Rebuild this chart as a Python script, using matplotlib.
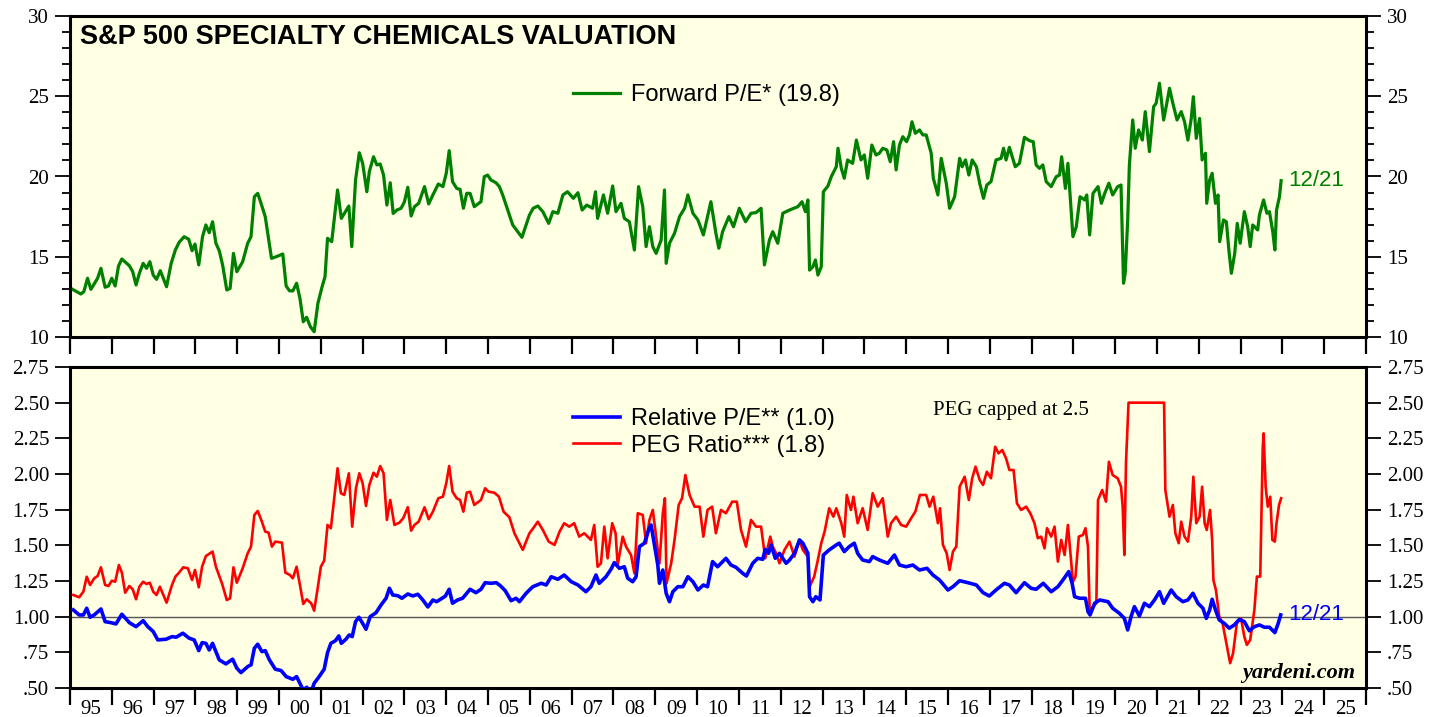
import numpy as np
import matplotlib
matplotlib.use("Agg")
import matplotlib.pyplot as plt
from matplotlib.ticker import MultipleLocator, FixedLocator, FuncFormatter

# ---- data (decimal year, value) ----
fwd_pe_dates = [
    1995.06, 1995.26, 1995.33, 1995.42, 1995.50, 1995.66, 1995.74, 1995.84, 1995.92, 1996.00,
    1996.08, 1996.16, 1996.24, 1996.42, 1996.50, 1996.58, 1996.66, 1996.75, 1996.83, 1996.91,
    1996.99, 1997.07, 1997.16, 1997.31, 1997.42, 1997.52, 1997.61, 1997.73, 1997.84, 1997.92,
    1997.99, 1998.08, 1998.17, 1998.25, 1998.33, 1998.41, 1998.49, 1998.57, 1998.65, 1998.75,
    1998.83, 1998.91, 1998.99, 1999.13, 1999.25, 1999.33, 1999.41, 1999.49, 1999.57, 1999.67,
    1999.82, 1999.93, 2000.09, 2000.17, 2000.25, 2000.33, 2000.42, 2000.50, 2000.58, 2000.66,
    2000.75, 2000.84, 2000.93, 2001.03, 2001.10, 2001.16, 2001.26, 2001.40, 2001.49, 2001.67,
    2001.74, 2001.83, 2001.92, 2002.00, 2002.10, 2002.16, 2002.26, 2002.34, 2002.42, 2002.50,
    2002.58, 2002.66, 2002.73, 2002.82, 2002.92, 2003.00, 2003.08, 2003.16, 2003.24, 2003.34,
    2003.48, 2003.58, 2003.68, 2003.81, 2003.92, 2004.00, 2004.07, 2004.15, 2004.25, 2004.33,
    2004.41, 2004.49, 2004.57, 2004.67, 2004.83, 2004.91, 2004.99, 2005.07, 2005.19, 2005.27,
    2005.35, 2005.47, 2005.59, 2005.71, 2005.81, 2005.99, 2006.08, 2006.19, 2006.31, 2006.45,
    2006.55, 2006.67, 2006.79, 2006.90, 2007.04, 2007.15, 2007.25, 2007.36, 2007.50, 2007.57,
    2007.62, 2007.76, 2007.86, 2007.98, 2008.06, 2008.18, 2008.26, 2008.38, 2008.50, 2008.60,
    2008.70, 2008.78, 2008.86, 2008.94, 2009.02, 2009.14, 2009.22, 2009.26, 2009.34, 2009.46,
    2009.58, 2009.70, 2009.78, 2009.90, 2010.02, 2010.15, 2010.25, 2010.33, 2010.45, 2010.52,
    2010.61, 2010.76, 2010.87, 2011.01, 2011.16, 2011.29, 2011.41, 2011.53, 2011.61, 2011.73,
    2011.81, 2011.93, 2012.05, 2012.21, 2012.41, 2012.51, 2012.59, 2012.65, 2012.69, 2012.77,
    2012.83, 2012.89, 2012.97, 2013.02, 2013.13, 2013.21, 2013.33, 2013.37, 2013.45, 2013.52,
    2013.60, 2013.72, 2013.81, 2013.92, 2014.00, 2014.08, 2014.18, 2014.28, 2014.36, 2014.44,
    2014.54, 2014.62, 2014.70, 2014.76, 2014.84, 2014.92, 2015.01, 2015.08, 2015.14, 2015.22,
    2015.32, 2015.40, 2015.48, 2015.60, 2015.65, 2015.76, 2015.84, 2015.96, 2016.04, 2016.16,
    2016.28, 2016.34, 2016.42, 2016.50, 2016.58, 2016.68, 2016.76, 2016.85, 2016.93, 2017.03,
    2017.15, 2017.27, 2017.33, 2017.39, 2017.47, 2017.61, 2017.71, 2017.83, 2017.95, 2018.04,
    2018.11, 2018.19, 2018.27, 2018.35, 2018.47, 2018.59, 2018.67, 2018.72, 2018.81, 2018.87,
    2018.99, 2019.07, 2019.16, 2019.27, 2019.32, 2019.39, 2019.47, 2019.59, 2019.67, 2019.75,
    2019.85, 2019.94, 2020.06, 2020.14, 2020.20, 2020.24, 2020.30, 2020.34, 2020.42, 2020.48,
    2020.56, 2020.65, 2020.72, 2020.82, 2020.92, 2020.98, 2021.06, 2021.16, 2021.22, 2021.30,
    2021.38, 2021.48, 2021.58, 2021.66, 2021.74, 2021.82, 2021.87, 2021.94, 2022.02, 2022.08,
    2022.16, 2022.19, 2022.26, 2022.32, 2022.40, 2022.46, 2022.50, 2022.59, 2022.66, 2022.72,
    2022.78, 2022.86, 2022.92, 2022.99, 2023.09, 2023.17, 2023.23, 2023.29, 2023.41, 2023.45,
    2023.55, 2023.63, 2023.69, 2023.77, 2023.82, 2023.86, 2023.93, 2023.97,
]
fwd_pe = [
    12.97, 12.68, 12.82, 13.66, 12.97, 13.66, 14.28, 13.10, 13.18, 13.66,
    13.18, 14.42, 14.86, 14.44, 14.07, 13.24, 13.97, 14.59, 14.28, 14.69,
    13.86, 13.59, 14.13, 13.13, 14.59, 15.42, 15.90, 16.25, 16.09, 15.38,
    15.79, 14.49, 16.25, 16.98, 16.50, 17.18, 15.84, 15.38, 14.49, 12.93,
    13.03, 15.21, 14.07, 14.69, 15.84, 16.25, 18.74, 18.95, 18.33, 17.50,
    14.90, 15.00, 15.17, 13.18, 12.88, 12.87, 13.35, 12.41, 10.95, 11.23,
    10.64, 10.33, 12.10, 13.13, 13.76, 16.15, 15.94, 19.16, 17.39, 18.16,
    15.63, 19.78, 21.48, 20.82, 19.05, 20.30, 21.23, 20.72, 20.78, 20.09,
    18.22, 19.61, 17.70, 17.91, 18.02, 18.43, 19.33, 17.54, 18.12, 18.33,
    19.37, 18.29, 18.85, 19.53, 19.37, 20.20, 21.61, 19.68, 19.26, 19.20,
    18.02, 18.95, 18.95, 18.12, 18.43, 19.99, 20.09, 19.78, 19.61, 19.37,
    18.85, 17.91, 16.98, 16.56, 16.21, 17.60, 18.02, 18.16, 17.81, 17.08,
    17.81, 17.71, 18.85, 19.05, 18.64, 18.99, 17.91, 18.22, 18.02, 19.05,
    17.39, 18.85, 17.71, 19.41, 17.81, 18.33, 17.39, 17.18, 15.42, 19.37,
    18.12, 15.63, 16.87, 15.63, 15.21, 16.04, 19.16, 14.59, 15.84, 16.46,
    17.50, 18.02, 18.85, 17.71, 17.29, 16.36, 17.50, 18.43, 16.46, 15.53,
    16.56, 17.50, 16.87, 18.02, 17.18, 17.71, 17.75, 18.02, 14.49, 16.04,
    16.56, 15.84, 17.71, 17.91, 18.12, 18.43, 17.81, 18.54, 14.17, 14.38,
    14.80, 13.86, 14.38, 19.05, 19.41, 19.99, 20.61, 21.76, 20.51, 19.89,
    21.03, 20.82, 22.27, 21.03, 21.34, 19.89, 21.96, 21.34, 21.45, 21.76,
    21.65, 20.92, 22.17, 20.41, 21.96, 22.48, 22.17, 22.59, 23.41, 22.69,
    22.90, 22.59, 22.59, 21.45, 19.89, 18.85, 21.13, 19.58, 18.02, 18.74,
    21.13, 20.61, 21.03, 20.09, 21.03, 20.61, 19.58, 18.64, 19.47, 19.68,
    21.03, 21.13, 21.76, 21.03, 21.82, 20.61, 20.82, 22.44, 22.23, 22.17,
    20.72, 20.51, 20.72, 19.68, 19.37, 19.99, 20.09, 21.23, 19.26, 20.82,
    16.25, 16.87, 18.74, 18.54, 18.85, 16.36, 18.95, 19.37, 18.33, 18.95,
    19.58, 18.85, 19.37, 19.47, 13.35, 13.97, 17.29, 20.72, 23.52, 21.76,
    22.90, 22.27, 24.04, 21.55, 24.35, 24.56, 25.81, 23.52, 24.35, 25.50,
    24.56, 23.52, 24.04, 23.41, 22.27, 23.62, 24.97, 22.38, 23.62, 21.03,
    21.45, 18.33, 19.78, 20.20, 18.33, 18.85, 15.94, 17.29, 17.18, 15.42,
    13.97, 15.21, 17.08, 15.84, 17.81, 16.87, 15.63, 16.98, 16.67, 17.60,
    18.54, 17.71, 17.81, 16.56, 15.42, 17.91, 18.74, 19.74,
]

rel_pe_dates = [
    1995.08, 1995.22, 1995.32, 1995.40, 1995.48, 1995.58, 1995.74, 1995.84, 1995.98, 1996.10,
    1996.24, 1996.42, 1996.58, 1996.75, 1996.86, 1996.99, 1997.10, 1997.30, 1997.44, 1997.54,
    1997.70, 1997.85, 1997.97, 1998.08, 1998.16, 1998.25, 1998.33, 1998.41, 1998.57, 1998.73,
    1998.89, 1998.99, 1999.09, 1999.25, 1999.33, 1999.41, 1999.49, 1999.59, 1999.67, 1999.77,
    1999.91, 2000.05, 2000.17, 2000.33, 2000.42, 2000.58, 2000.66, 2000.77, 2000.84, 2000.96,
    2001.08, 2001.16, 2001.24, 2001.35, 2001.43, 2001.49, 2001.60, 2001.68, 2001.75, 2001.83,
    2001.91, 2001.99, 2002.08, 2002.18, 2002.32, 2002.44, 2002.56, 2002.64, 2002.72, 2002.84,
    2002.94, 2003.08, 2003.20, 2003.32, 2003.44, 2003.56, 2003.68, 2003.77, 2003.90, 2003.98,
    2004.07, 2004.15, 2004.27, 2004.39, 2004.57, 2004.71, 2004.83, 2004.93, 2005.07, 2005.20,
    2005.30, 2005.41, 2005.55, 2005.67, 2005.75, 2005.91, 2006.07, 2006.27, 2006.39, 2006.51,
    2006.67, 2006.82, 2006.99, 2007.15, 2007.34, 2007.46, 2007.58, 2007.66, 2007.82, 2007.94,
    2008.02, 2008.14, 2008.26, 2008.34, 2008.46, 2008.54, 2008.62, 2008.74, 2008.84, 2008.90,
    2009.00, 2009.06, 2009.10, 2009.18, 2009.26, 2009.34, 2009.42, 2009.54, 2009.66, 2009.78,
    2009.90, 2010.02, 2010.15, 2010.25, 2010.37, 2010.49, 2010.69, 2010.81, 2010.93, 2011.09,
    2011.18, 2011.33, 2011.45, 2011.57, 2011.63, 2011.71, 2011.77, 2011.87, 2011.97, 2012.13,
    2012.21, 2012.33, 2012.45, 2012.53, 2012.65, 2012.69, 2012.77, 2012.84, 2012.94, 2013.02,
    2013.16, 2013.33, 2013.40, 2013.52, 2013.64, 2013.76, 2013.84, 2013.96, 2014.12, 2014.20,
    2014.36, 2014.56, 2014.72, 2014.84, 2015.00, 2015.16, 2015.32, 2015.50, 2015.64, 2015.80,
    2016.00, 2016.12, 2016.28, 2016.48, 2016.68, 2016.84, 2016.99, 2017.15, 2017.35, 2017.47,
    2017.63, 2017.83, 2017.99, 2018.11, 2018.28, 2018.47, 2018.63, 2018.75, 2018.89, 2018.97,
    2019.03, 2019.15, 2019.29, 2019.35, 2019.40, 2019.51, 2019.63, 2019.83, 2019.94, 2020.10,
    2020.22, 2020.30, 2020.38, 2020.46, 2020.58, 2020.70, 2020.82, 2020.94, 2021.06, 2021.16,
    2021.34, 2021.46, 2021.62, 2021.74, 2021.86, 2021.98, 2022.10, 2022.18, 2022.26, 2022.32,
    2022.40, 2022.49, 2022.61, 2022.73, 2022.85, 2022.97, 2023.09, 2023.21, 2023.33, 2023.45,
    2023.57, 2023.69, 2023.82, 2023.90, 2023.96,
]
rel_pe = [
    1.047, 1.012, 1.012, 1.059, 0.996, 1.012, 1.054, 0.965, 0.958, 0.949,
    1.017, 0.958, 0.930, 0.972, 0.930, 0.896, 0.837, 0.842, 0.860, 0.856,
    0.884, 0.849, 0.837, 0.762, 0.818, 0.813, 0.767, 0.813, 0.697, 0.669,
    0.702, 0.639, 0.608, 0.650, 0.662, 0.779, 0.807, 0.755, 0.762, 0.697,
    0.632, 0.622, 0.580, 0.561, 0.580, 0.485, 0.505, 0.475, 0.533, 0.580,
    0.632, 0.748, 0.813, 0.832, 0.865, 0.813, 0.842, 0.872, 0.860, 0.965,
    0.996, 0.958, 0.912, 1.000, 1.028, 1.082, 1.129, 1.199, 1.152, 1.147,
    1.129, 1.159, 1.145, 1.157, 1.117, 1.068, 1.117, 1.105, 1.129, 1.145,
    1.192, 1.094, 1.117, 1.129, 1.192, 1.168, 1.192, 1.238, 1.234, 1.238,
    1.215, 1.182, 1.112, 1.129, 1.105, 1.164, 1.210, 1.234, 1.222, 1.280,
    1.262, 1.292, 1.245, 1.222, 1.175, 1.210, 1.292, 1.234, 1.280, 1.332,
    1.379, 1.339, 1.350, 1.269, 1.245, 1.280, 1.491, 1.515, 1.608, 1.643,
    1.468, 1.362, 1.234, 1.327, 1.164, 1.105, 1.175, 1.210, 1.210, 1.280,
    1.245, 1.187, 1.222, 1.210, 1.386, 1.350, 1.409, 1.362, 1.346, 1.304,
    1.285, 1.374, 1.409, 1.402, 1.472, 1.444, 1.503, 1.409, 1.444, 1.374,
    1.397, 1.444, 1.538, 1.515, 1.444, 1.140, 1.105, 1.140, 1.117, 1.432,
    1.468, 1.503, 1.515, 1.456, 1.491, 1.515, 1.444, 1.397, 1.386, 1.421,
    1.397, 1.374, 1.432, 1.362, 1.350, 1.362, 1.327, 1.339, 1.292, 1.257,
    1.187, 1.210, 1.252, 1.238, 1.222, 1.168, 1.145, 1.187, 1.234, 1.222,
    1.168, 1.238, 1.199, 1.192, 1.234, 1.175, 1.210, 1.257, 1.316, 1.234,
    1.140, 1.129, 1.129, 1.035, 1.012, 1.094, 1.117, 1.105, 1.059, 1.024,
    0.988, 0.907, 1.000, 1.070, 1.005, 1.094, 1.070, 1.117, 1.175, 1.094,
    1.187, 1.140, 1.105, 1.117, 1.164, 1.094, 1.059, 0.988, 1.047, 1.122,
    1.047, 0.977, 0.953, 0.919, 0.942, 0.981, 0.965, 0.901, 0.930, 0.942,
    0.926, 0.926, 0.888, 0.953, 1.012,
]

peg_dates = [
    1995.08, 1995.22, 1995.32, 1995.40, 1995.48, 1995.58, 1995.66, 1995.74, 1995.84, 1995.92,
    1996.00, 1996.08, 1996.17, 1996.24, 1996.32, 1996.42, 1996.50, 1996.58, 1996.66, 1996.75,
    1996.83, 1996.91, 1996.99, 1997.07, 1997.15, 1997.31, 1997.44, 1997.52, 1997.61, 1997.71,
    1997.82, 1997.92, 1997.99, 1998.08, 1998.16, 1998.25, 1998.41, 1998.49, 1998.64, 1998.75,
    1998.83, 1998.91, 1998.99, 1999.13, 1999.25, 1999.33, 1999.41, 1999.49, 1999.59, 1999.67,
    1999.75, 1999.83, 1999.91, 2000.07, 2000.15, 2000.26, 2000.33, 2000.42, 2000.50, 2000.58,
    2000.66, 2000.77, 2000.84, 2000.93, 2001.00, 2001.08, 2001.16, 2001.24, 2001.40, 2001.48,
    2001.56, 2001.67, 2001.75, 2001.84, 2001.92, 2002.00, 2002.08, 2002.16, 2002.26, 2002.34,
    2002.42, 2002.50, 2002.58, 2002.66, 2002.76, 2002.88, 2002.97, 2003.08, 2003.16, 2003.24,
    2003.34, 2003.48, 2003.58, 2003.68, 2003.81, 2003.92, 2004.00, 2004.07, 2004.15, 2004.25,
    2004.33, 2004.41, 2004.49, 2004.57, 2004.67, 2004.83, 2004.93, 2005.01, 2005.15, 2005.26,
    2005.37, 2005.51, 2005.63, 2005.83, 2005.99, 2006.08, 2006.19, 2006.31, 2006.45, 2006.59,
    2006.71, 2006.82, 2006.94, 2007.06, 2007.18, 2007.30, 2007.46, 2007.54, 2007.62, 2007.70,
    2007.78, 2007.86, 2007.97, 2008.05, 2008.10, 2008.22, 2008.30, 2008.42, 2008.50, 2008.58,
    2008.70, 2008.78, 2008.86, 2008.94, 2009.02, 2009.10, 2009.18, 2009.23, 2009.27, 2009.38,
    2009.46, 2009.56, 2009.64, 2009.72, 2009.82, 2009.94, 2010.06, 2010.15, 2010.25, 2010.36,
    2010.45, 2010.57, 2010.69, 2010.84, 2010.95, 2011.05, 2011.17, 2011.29, 2011.41, 2011.53,
    2011.63, 2011.75, 2011.81, 2011.89, 2011.97, 2012.09, 2012.21, 2012.33, 2012.44, 2012.53,
    2012.65, 2012.69, 2012.80, 2012.88, 2012.97, 2013.05, 2013.16, 2013.26, 2013.33, 2013.45,
    2013.52, 2013.58, 2013.68, 2013.74, 2013.84, 2013.96, 2014.08, 2014.20, 2014.32, 2014.44,
    2014.56, 2014.64, 2014.76, 2014.88, 2015.00, 2015.12, 2015.22, 2015.33, 2015.48, 2015.56,
    2015.65, 2015.76, 2015.81, 2015.88, 2015.97, 2016.04, 2016.12, 2016.20, 2016.28, 2016.40,
    2016.50, 2016.58, 2016.66, 2016.76, 2016.84, 2016.93, 2017.03, 2017.13, 2017.21, 2017.30,
    2017.39, 2017.47, 2017.57, 2017.65, 2017.75, 2017.87, 2017.97, 2018.07, 2018.15, 2018.23,
    2018.31, 2018.37, 2018.47, 2018.55, 2018.63, 2018.71, 2018.79, 2018.87, 2018.99, 2019.05,
    2019.13, 2019.23, 2019.29, 2019.35, 2019.39, 2019.47, 2019.55, 2019.59, 2019.69, 2019.78,
    2019.85, 2019.94, 2020.06, 2020.14, 2020.18, 2020.22, 2020.26, 2020.32, 2021.17, 2021.20,
    2021.30, 2021.38, 2021.44, 2021.52, 2021.58, 2021.66, 2021.74, 2021.82, 2021.87, 2021.94,
    2022.02, 2022.08, 2022.14, 2022.19, 2022.27, 2022.32, 2022.35, 2022.41, 2022.49, 2022.57,
    2022.66, 2022.75, 2022.82, 2022.91, 2023.01, 2023.09, 2023.15, 2023.23, 2023.33, 2023.39,
    2023.47, 2023.53, 2023.55, 2023.60, 2023.65, 2023.71, 2023.76, 2023.82, 2023.86, 2023.92,
    2023.97,
]
peg = [
    1.152, 1.136, 1.175, 1.280, 1.222, 1.269, 1.285, 1.346, 1.222, 1.215,
    1.252, 1.245, 1.362, 1.309, 1.168, 1.215, 1.192, 1.122, 1.210, 1.245,
    1.229, 1.238, 1.175, 1.152, 1.210, 1.098, 1.222, 1.280, 1.309, 1.346,
    1.339, 1.257, 1.327, 1.206, 1.350, 1.425, 1.456, 1.350, 1.229, 1.117,
    1.129, 1.346, 1.238, 1.339, 1.444, 1.491, 1.713, 1.741, 1.666, 1.596,
    1.589, 1.491, 1.526, 1.519, 1.309, 1.292, 1.269, 1.350, 1.222, 1.089,
    1.122, 1.094, 1.042, 1.210, 1.350, 1.393, 1.643, 1.620, 2.040, 1.865,
    1.853, 2.005, 1.631, 1.900, 2.005, 1.935, 1.776, 1.923, 2.009, 1.981,
    2.056, 2.005, 1.678, 1.818, 1.643, 1.659, 1.690, 1.767, 1.603, 1.643,
    1.666, 1.767, 1.683, 1.736, 1.830, 1.841, 1.935, 2.056, 1.876, 1.830,
    1.818, 1.736, 1.869, 1.876, 1.783, 1.818, 1.900, 1.876, 1.869, 1.841,
    1.736, 1.697, 1.585, 1.468, 1.585, 1.620, 1.666, 1.608, 1.526, 1.503,
    1.596, 1.655, 1.631, 1.655, 1.561, 1.585, 1.538, 1.643, 1.350, 1.374,
    1.631, 1.409, 1.655, 1.585, 1.362, 1.561, 1.491, 1.432, 1.304, 1.725,
    1.713, 1.515, 1.678, 1.748, 1.561, 1.374, 1.725, 1.830, 1.234, 1.374,
    1.538, 1.783, 1.830, 1.993, 1.853, 1.771, 1.771, 1.561, 1.748, 1.771,
    1.585, 1.748, 1.725, 1.806, 1.806, 1.608, 1.491, 1.678, 1.631, 1.631,
    1.409, 1.561, 1.491, 1.444, 1.374, 1.468, 1.526, 1.421, 1.538, 1.468,
    1.421, 1.210, 1.280, 1.386, 1.515, 1.596, 1.760, 1.701, 1.760, 1.655,
    1.561, 1.853, 1.748, 1.841, 1.655, 1.760, 1.608, 1.865, 1.771, 1.830,
    1.561, 1.655, 1.701, 1.643, 1.631, 1.690, 1.736, 1.853, 1.853, 1.771,
    1.841, 1.655, 1.760, 1.503, 1.444, 1.327, 1.456, 1.491, 1.911, 1.981,
    1.818, 1.970, 2.051, 1.958, 1.923, 2.016, 1.970, 2.191, 2.145, 2.168,
    2.110, 2.028, 2.028, 1.795, 1.748, 1.771, 1.725, 1.655, 1.550, 1.561,
    1.479, 1.620, 1.561, 1.631, 1.386, 1.538, 1.432, 1.643, 1.245, 1.280,
    1.561, 1.573, 1.620, 1.491, 1.047, 1.070, 1.094, 1.818, 1.888, 1.806,
    2.086, 1.993, 1.970, 1.911, 1.771, 1.432, 2.086, 2.500, 2.500, 1.888,
    1.701, 1.783, 1.585, 1.515, 1.666, 1.561, 1.526, 1.701, 1.981, 1.655,
    1.701, 1.911, 1.655, 1.608, 1.748, 1.538, 1.257, 1.187, 1.000, 0.953,
    0.813, 0.674, 0.743, 0.953, 0.988, 0.860, 0.802, 0.837, 1.047, 1.281,
    1.281, 2.180, 2.285, 1.911, 1.771, 1.841, 1.538, 1.526, 1.655, 1.783,
    1.830,
]

years = list(range(1995, 2027))

# ---- styling ----
BG = "#ffffe3"
GREEN = "#008000"
BLUE = "#0000ff"
RED = "#ff0000"
SERIF = ["Liberation Serif", "DejaVu Serif"]
SANS = ["Liberation Sans", "DejaVu Sans"]

fig = plt.figure(figsize=(14.4, 7.17), dpi=100)
ax1 = fig.add_axes([70 / 1440, 1 - 337 / 717, 1296 / 1440, 321 / 717])
ax2 = fig.add_axes([70 / 1440, 1 - 688 / 717, 1296 / 1440, 321 / 717])


def style_axis(ax):
    ax.set_facecolor(BG)
    for sp in ax.spines.values():
        sp.set_linewidth(2.2)
    ax.set_xlim(years[0], years[-1])
    ax.xaxis.set_major_locator(FixedLocator(years))
    ax.tick_params(axis="x", which="major", direction="out", length=12, width=1.6,
                   bottom=True, top=False, labelbottom=False)
    ax.tick_params(axis="y", which="major", direction="out", length=11, width=1.3,
                   left=True, right=True, labelleft=True, labelright=True,
                   labelsize=15, pad=4)


# ---- top panel: forward P/E ----
style_axis(ax1)
ax1.plot(fwd_pe_dates, fwd_pe, color=GREEN, lw=2.3, label="Forward P/E* (19.8)")
ax1.set_ylim(10, 30)
ax1.yaxis.set_major_locator(MultipleLocator(5))
ax1.yaxis.set_minor_locator(MultipleLocator(1))
ax1.tick_params(axis="y", which="minor", direction="out", length=6, width=1.3,
                left=True, right=True)
ax1.tick_params(axis="x", which="minor", bottom=False)
for lab in ax1.get_yticklabels():
    lab.set_family(SERIF)
ax1.text(0.008, 0.935, "S&P 500 SPECIALTY CHEMICALS VALUATION", transform=ax1.transAxes,
         fontsize=19.5, fontweight="bold", family=SANS, va="center", ha="left")
ax1.legend(loc="center left", bbox_to_anchor=(0.388, 0.754), frameon=False,
           prop={"family": SANS, "size": 17}, handlelength=2.0,
           handletextpad=0.45, borderpad=0, borderaxespad=0)
ax1.text(fwd_pe_dates[-1] + 0.17, fwd_pe[-1], "12/21", color=GREEN, fontsize=16,
         family=SANS, va="center", ha="left")

# ---- bottom panel: relative P/E and PEG ----
style_axis(ax2)
ax2.axhline(1.0, color="#555555", lw=1.0, zorder=1)
ax2.plot(rel_pe_dates, rel_pe, color=BLUE, lw=2.6, label="Relative P/E** (1.0)", zorder=3)
ax2.plot(peg_dates, peg, color=RED, lw=1.9, label="PEG Ratio*** (1.8)", zorder=2)
ax2.set_ylim(0.5, 2.75)
ax2.yaxis.set_major_locator(MultipleLocator(0.25))
ax2.yaxis.set_major_formatter(FuncFormatter(
    lambda v, p: f"{v:.2f}" if v >= 1 else f"{v:.2f}"[1:]))
for lab in ax2.get_yticklabels():
    lab.set_family(SERIF)
ax2.xaxis.set_minor_locator(FixedLocator([y + 0.5 for y in years[:-1]]))
ax2.xaxis.set_minor_formatter(FuncFormatter(lambda v, p: f"{int(v) % 100:02d}"))
ax2.tick_params(axis="x", which="minor", length=0, pad=9, labelsize=15)
for lab in ax2.get_xticklabels(minor=True):
    lab.set_family(SERIF)
ax2.legend(loc="center left", bbox_to_anchor=(0.388, 0.796), frameon=False,
           prop={"family": SANS, "size": 17}, handlelength=2.0, labelspacing=0.18,
           handletextpad=0.45, borderpad=0, borderaxespad=0)
ax2.text(0.666, 0.866, "PEG capped at 2.5", transform=ax2.transAxes, fontsize=15,
         family=SERIF, va="center", ha="left")
ax2.text(0.9915, 0.047, "yardeni.com", transform=ax2.transAxes, fontsize=16,
         family=SERIF, fontweight="bold", fontstyle="italic", va="center", ha="right")
ax2.text(rel_pe_dates[-1] + 0.17, rel_pe[-1], "12/21", color=BLUE, fontsize=16,
         family=SANS, va="center", ha="left")

fig.savefig("out.png", dpi=100, facecolor="white")
